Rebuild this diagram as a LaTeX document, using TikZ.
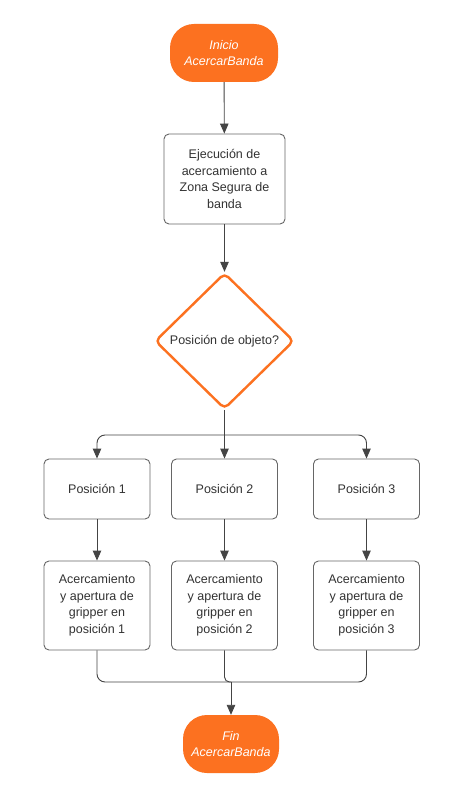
\documentclass[tikz,border=0pt]{standalone}
\usepackage{fontspec}
\setmainfont{Liberation Sans}
\usetikzlibrary{arrows.meta,shapes.geometric}
\definecolor{orng}{RGB}{252,113,32}
\definecolor{bordergray}{RGB}{102,102,102}
\definecolor{linegray}{RGB}{68,68,68}
\definecolor{txtgray}{RGB}{51,51,51}
\begin{document}
\begin{tikzpicture}[x=1pt,y=-1pt,
  txt/.style={font=\fontsize{12.5}{16.5}\selectfont, text=txtgray, align=center},
  procbox/.style={txt, draw=bordergray, line width=0.9pt, fill=white, rounded corners=5pt, minimum width=#1, inner sep=2pt},
  terminal/.style={fill=orng, draw=none, rounded corners=24pt, text=white, font=\fontsize{12.5}{16.5}\selectfont\itshape, align=center, inner sep=0pt},
  decision/.style={txt, diamond, draw=orng, line width=2.4pt, rounded corners=5pt, inner sep=0pt, minimum width=139pt, minimum height=136pt, fill=white},
  conn/.style={draw=linegray, line width=0.9pt},
  arr/.style={conn, -{Triangle[length=10pt,width=8.5pt]}}
]
\useasboundingbox (0,0) rectangle (465,791);
\fill[white] (0,0) rectangle (465,791);

\node[terminal, minimum width=108pt, minimum height=58pt] (start) at (224,53) {Inicio\\AcercarBanda};
\node[procbox=121pt, minimum height=90pt] (exec) at (224.5,179) {Ejecución de\\acercamiento a\\Zona Segura de\\banda};
\node[decision] (dec) at (224.5,341) {Posición de objeto?};

\node[procbox=106pt, minimum height=60pt] (p1) at (97,489) {Posición 1};
\node[procbox=106pt, minimum height=60pt] (p2) at (224.5,489) {Posición 2};
\node[procbox=106pt, minimum height=60pt] (p3) at (366.5,489) {Posición 3};

\node[procbox=106pt, minimum height=89pt] (a1) at (97,605.5) {Acercamiento\\y apertura de\\gripper en\\posición 1};
\node[procbox=106pt, minimum height=89pt] (a2) at (224.5,605.5) {Acercamiento\\y apertura de\\gripper en\\posición 2};
\node[procbox=106pt, minimum height=89pt] (a3) at (366.5,605.5) {Acercamiento\\y apertura de\\gripper en\\posición 3};

\node[terminal, minimum width=96pt, minimum height=58pt] (fin) at (231,744) {Fin\\AcercarBanda};

\coordinate (br) at (224.5,435);
\coordinate (mg) at (231,682);

\draw[arr] (start) -- (exec);
\draw[arr] (exec) -- (dec.north);
\draw[conn] (dec.south) -- (br);
\draw[arr, rounded corners=8pt] (br) -- (p1.north |- br) -- (p1.north);
\draw[arr] (br) -- (p2.north);
\draw[arr, rounded corners=8pt] (br) -- (p3.north |- br) -- (p3.north);

\draw[arr] (p1) -- (a1);
\draw[arr] (p2) -- (a2);
\draw[arr] (p3) -- (a3);

\draw[conn, rounded corners=8pt] (a1.south) -- (a1.south |- mg) -- (mg);
\draw[conn, rounded corners=8pt] (a3.south) -- (a3.south |- mg) -- (mg);
\draw[conn, rounded corners=5pt] (a2.south) -- (a2.south |- mg) -- (mg);
\draw[arr] (mg) -- (fin.north);
\end{tikzpicture}
\end{document}
